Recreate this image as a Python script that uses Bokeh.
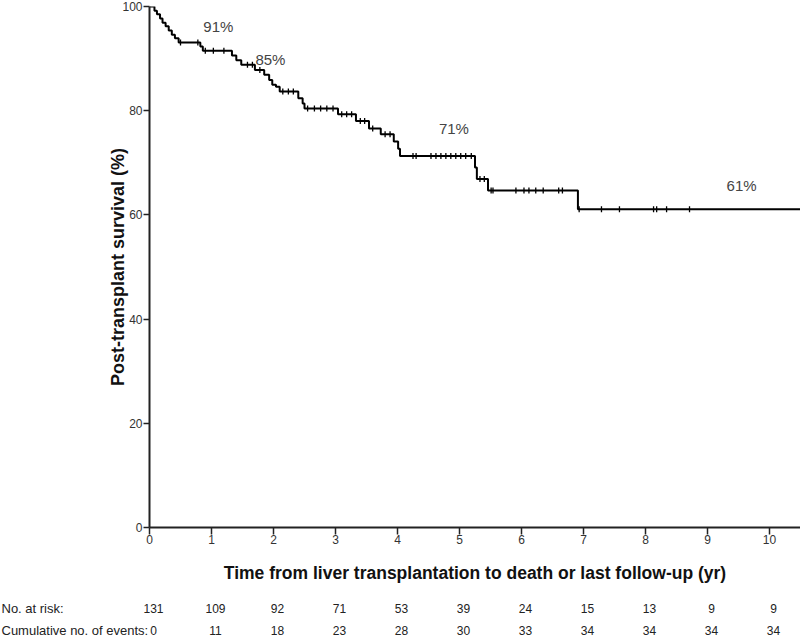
import numpy as np
from bokeh.plotting import figure
from bokeh.models import Range1d, FixedTicker, ColumnDataSource
from bokeh.embed import file_html
from bokeh.resources import INLINE
from bokeh.core.properties import value

# ---------------- data ----------------
event_times = [0.08, 0.12, 0.17, 0.21, 0.26, 0.31, 0.36, 0.41, 0.47, 0.82, 0.86,
               1.33, 1.40, 1.48, 1.70, 1.85, 1.93, 1.98,
               2.04, 2.10, 2.40, 2.47, 2.50,
               3.04, 3.33, 3.54, 3.73, 3.94,
               4.01, 4.04,
               5.25, 5.28, 5.46,
               6.91]
event_surv = [99.2, 98.5, 97.7, 96.9, 96.2, 95.4, 94.6, 93.9, 93.1, 92.3, 91.5,
              90.6, 89.7, 88.8, 87.8, 86.9, 85.9, 85.0,
              84.6, 83.7, 82.4, 81.4, 80.4,
              79.3, 78.0, 76.6, 75.5, 74.1,
              72.7, 71.3,
              69.1, 66.9, 64.7,
              61.1]
censor_times = [0.50, 0.78, 0.90, 1.03, 1.20, 1.58, 1.66, 1.78,
                2.15, 2.24, 2.32, 2.55, 2.66, 2.76, 2.86, 2.96,
                3.10, 3.18, 3.26, 3.40, 3.47, 3.60, 3.80, 3.88,
                4.25, 4.30, 4.54, 4.62, 4.70, 4.78, 4.86, 4.94, 5.02, 5.10, 5.19,
                5.33, 5.40, 5.51, 5.54, 5.91, 6.04, 6.12, 6.23, 6.35, 6.60, 6.66,
                6.93, 7.29, 7.58, 8.13, 8.18, 8.34, 8.71]
last_follow_up = 10.5

years = [0, 1, 2, 3, 4, 5, 6, 7, 8, 9, 10]
at_risk = [131, 109, 92, 71, 53, 39, 24, 15, 13, 9, 9]
cum_events = [0, 11, 18, 23, 28, 30, 33, 34, 34, 34, 34]
y_ticks = [0, 20, 40, 60, 80, 100]
row_titles = ["No. at risk:", "Cumulative no. of events:"]

pct_text = ["91%", "85%", "71%", "61%"]
pct_x = [1.11, 1.95, 4.91, 9.55]
pct_y = [96.2, 89.8, 76.6, 65.7]

# ---------------- derived ----------------
step_x = [0.0] + event_times + [last_follow_up]
step_y = [100.0] + event_surv + [event_surv[-1]]


def surv_at(t):
    s = 100.0
    for et, es in zip(event_times, event_surv):
        if et <= t:
            s = es
    return s


censor_y = [surv_at(t) for t in censor_times]

FONT = "Liberation Sans"
W = 800
LEFT = 149
X_END = 10.5

p = figure(width=W, height=590,
           x_range=Range1d(0, X_END), y_range=Range1d(0, 100),
           output_backend="svg", toolbar_location=None,
           min_border_left=LEFT, min_border_right=0,
           min_border_top=6, min_border_bottom=63)
p.outline_line_color = None
p.xgrid.visible = False
p.ygrid.visible = False

# survival curve
p.step(step_x, step_y, mode="after", line_color="black", line_width=2)
p.scatter(censor_times, censor_y, marker="dash", angle=np.pi / 2, size=6,
          line_color="black", line_width=1.3)

src = ColumnDataSource(dict(x=pct_x, y=pct_y, t=pct_text))
p.text("x", "y", text="t", source=src, text_font=value(FONT),
       text_font_size="15px", text_color="#444444",
       text_align="center", text_baseline="middle")

# y axis
ya = p.yaxis[0]
ya.ticker = FixedTicker(ticks=y_ticks)
ya.axis_label = "Post-transplant survival (%)"
ya.axis_label_text_font = FONT
ya.axis_label_text_font_style = "bold"
ya.axis_label_text_font_size = "18px"
ya.axis_label_text_color = "#111111"
ya.axis_label_standoff = -9
ya.major_label_text_font = FONT
ya.major_label_text_font_size = "12px"
ya.major_label_text_color = "#333333"
ya.major_label_standoff = 1
ya.major_tick_out = 6
ya.major_tick_in = 0
ya.minor_tick_line_color = None
ya.axis_line_width = 2
ya.axis_line_color = "#222222"
ya.major_tick_line_color = "#222222"
ya.major_tick_line_width = 1.5

# x axis
xa = p.xaxis[0]
xa.ticker = FixedTicker(ticks=years)
xa.axis_label = "Time from liver transplantation to death or last follow-up (yr)"
xa.axis_label_text_font = FONT
xa.axis_label_text_font_style = "bold"
xa.axis_label_text_font_size = "17.5px"
xa.axis_label_text_color = "#111111"
xa.axis_label_standoff = 16
xa.major_label_text_font = FONT
xa.major_label_text_font_size = "12px"
xa.major_label_text_color = "#333333"
xa.major_label_standoff = 0
xa.major_tick_out = 7
xa.major_tick_in = 0
xa.minor_tick_line_color = None
xa.axis_line_width = 2
xa.axis_line_color = "#222222"
xa.major_tick_line_color = "#222222"
xa.major_tick_line_width = 1.5

# ---------------- risk table (same x scale, extended to the page's left edge) ----
TH = 47
x_start = -X_END * LEFT / (W - LEFT)
t = figure(width=W, height=TH,
           x_range=Range1d(x_start, X_END), y_range=Range1d(0, TH),
           output_backend="svg", toolbar_location=None,
           x_axis_location=None, y_axis_location=None,
           min_border_left=0, min_border_right=0,
           min_border_top=0, min_border_bottom=0)
t.outline_line_color = None
t.xgrid.visible = False
t.ygrid.visible = False

ROW_Y = [29, 7]
for vals, ry in zip([at_risk, cum_events], ROW_Y):
    t.text(years, [ry] * len(years), text=[str(v) for v in vals],
           text_font=value(FONT), text_font_size="12px", text_color="#222222",
           text_align="center", text_baseline="middle", x_offset=4)
t.text([x_start] * 2, ROW_Y, text=row_titles,
       text_font=value(FONT), text_font_size="13px", text_color="#222222",
       text_align="left", text_baseline="middle", x_offset=1)

open("out.html", "w").write(file_html([p, t], INLINE))
